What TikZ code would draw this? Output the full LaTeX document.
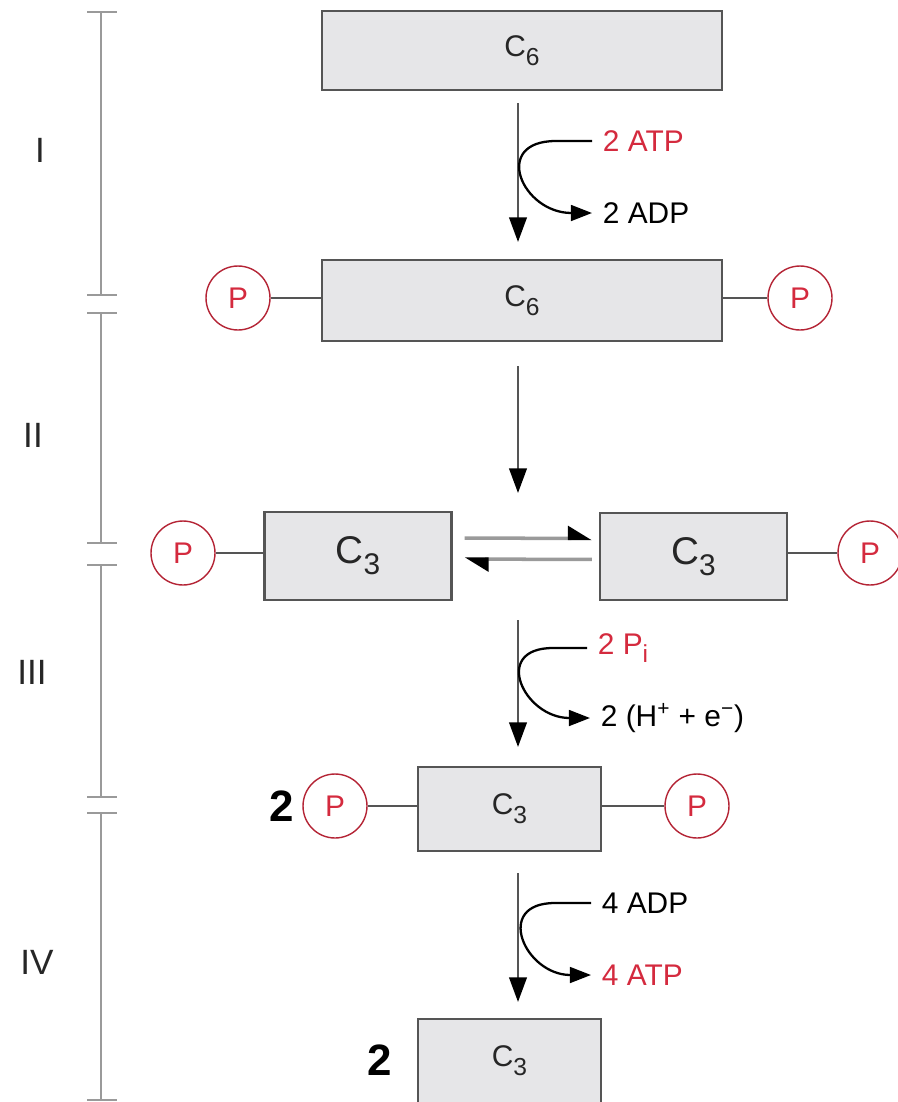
\documentclass[tikz,border=0pt]{standalone}
\usepackage{fontspec}
\setmainfont{Liberation Sans}
\usepackage{tikz}
\usetikzlibrary{arrows.meta,calc}
\definecolor{glyred}{HTML}{D42A3E}
\definecolor{glybox}{HTML}{E6E6E8}
\definecolor{glyedge}{HTML}{555555}
\definecolor{glyscale}{HTML}{9A9A9A}
\newcommand\csub[1]{\raisebox{-0.55ex}{\fontsize{14}{14}\selectfont #1}}
\tikzset{
  gl/box/.style={
    draw=glyedge, fill=glybox, line width=1.2pt, inner sep=0pt,
    font=\fontsize{17}{20}\selectfont, text=black!85
  },
  gl/phos/.style={
    circle, draw=glyred!85!black, line width=0.8pt, minimum size=1.28cm, inner sep=0pt,
    text=glyred, font=\fontsize{17}{20}\selectfont
  },
  gl/link/.style={glyedge, line width=1.5pt},
  gl/arr/.style={-{Triangle[length=14pt,width=10pt,color=black]}, draw=glyedge, line width=1.3pt},
  gl/side/.style={-{Triangle[length=12pt,width=9pt]}, black, line width=1.3pt},
  gl/eq/.style={-{Triangle[left,length=12pt,width=14pt,color=black]}, draw=glyscale, line width=2pt},
  gl/lbl/.style={anchor=west, inner sep=6pt, font=\fontsize{17}{20}\selectfont},
  gl/stage/.style={font=\fontsize{20}{24}\selectfont, text=black!85},
  gl/count/.style={font=\fontsize{25}{30}\selectfont\bfseries},
  gl/scale/.style={glyscale, line width=1.6pt}
}

\begin{document}
\begin{tikzpicture}[x=0.02cm, y=-0.02cm]
  \useasboundingbox (0,0) rectangle (898,1102);

  % --- Escala de etapas ---
  \foreach \ya/\yb in {12/295, 313/543, 565/797, 813/1100}
    \draw[gl/scale] (87,\ya) -- (117,\ya) (101,\ya) -- (101,\yb) (87,\yb) -- (117,\yb);
  \node[gl/stage] (st1) at (40,150) {I};
  \node[gl/stage] (st2) at (33,435) {II};
  \node[gl/stage] (st3) at (32,672) {III};
  \node[gl/stage] (st4) at (37,962) {IV};

  % --- Etapa I ---
  \node[gl/box, minimum width=8cm, minimum height=1.58cm] (b1) at (522,50.5) {C\csub{6}};
  \node[gl/box, minimum width=8cm, minimum height=1.62cm] (b2) at (522,300.5) {C\csub{6}};
  \node[gl/phos] (p2l) at (238,298) {P};
  \node[gl/phos] (p2r) at (800,298) {P};
  \coordinate (m1) at (518,141);
  \node[gl/lbl, text=glyred] (atp1) at (592,141) {2 ATP};
  \node[gl/lbl] (adp1) at (592,213) {2 ADP};

  % --- Etapa II ---
  \coordinate (m2) at (518,493);
  \node[gl/box, minimum width=3.74cm, minimum height=1.76cm] (b3l) at (358,556) {\fontsize{22}{26}\selectfont C\raisebox{-0.55ex}{\fontsize{17}{17}\selectfont 3}};
  \node[gl/box, minimum width=3.74cm, minimum height=1.74cm] (b3r) at (693.5,556.5) {\fontsize{22}{26}\selectfont C\raisebox{-0.55ex}{\fontsize{17}{17}\selectfont 3}};
  \node[gl/phos] (p3l) at (183,553) {P};
  \node[gl/phos] (p3r) at (870,553) {P};

  % --- Etapa III ---
  \coordinate (m3) at (518,620);
  \node[gl/lbl, text=glyred] (pi3) at (587,648) {2 P\csub{i}};
  \node[gl/lbl] (hpe3) at (590,718) {2 (H\textsuperscript{+} + e\textsuperscript{−})};
  \node[gl/box, minimum width=3.66cm, minimum height=1.68cm] (b4) at (509.5,809) {C\csub{3}};
  \node[gl/phos] (p4l) at (335,806) {P};
  \node[gl/phos] (p4r) at (697,806) {P};
  \node[gl/count] (n4) at (282,806) {2};

  % --- Etapa IV ---
  \node[gl/lbl] (adp4) at (591,903) {4 ADP};
  \node[gl/lbl, text=glyred] (atp4) at (591,975) {4 ATP};
  \node[gl/box, minimum width=3.66cm, minimum height=1.68cm] (b5) at (509.5,1061) {C\csub{3}};
  \node[gl/count] (n5) at (380,1060) {2};

  % --- Enlaces fosfato ---
  \draw[gl/link] (p2l) -- (p2l -| b2.west);
  \draw[gl/link] (b2.east |- p2r) -- (p2r);
  \draw[gl/link] (p3l) -- (p3l -| b3l.west);
  \draw[gl/link] (b3r.east |- p3r) -- (p3r);
  \draw[gl/link] (p4l) -- (p4l -| b4.west);
  \draw[gl/link] (b4.east |- p4r) -- (p4r);

  % --- Flechas ---
  \draw[gl/arr, shorten <=0.24cm, shorten >=0.34cm] (m1 |- b1.south) -- (m1 |- b2.north);
  \draw[gl/arr, shorten <=0.48cm] (m2 |- b2.south) -- (m2);
  \draw[gl/arr, shorten >=0.38cm] (m3) -- (m3 |- b4.north);
  \draw[gl/arr, shorten <=0.42cm, shorten >=0.32cm] (m3 |- b4.south) -- (m3 |- b5.north);
  \draw[gl/eq, shorten <=0.24cm, shorten >=0.14cm] ([yshift=0.36cm]b3l.east) -- ([yshift=0.36cm]b3r.west);
  \draw[gl/eq, shorten <=0.14cm, shorten >=0.24cm] ([yshift=-0.06cm]b3r.west) -- ([yshift=-0.06cm]b3l.east);

  \draw[gl/side] (atp1.west) -- ++(-36,0) .. controls +(-65,0) and +(-70,0) .. (adp1.west);
  \draw[gl/side] (pi3.west) -- ++(-34,0) .. controls +(-62,0) and +(-66,0) .. (hpe3.west);
  \draw[gl/side] (adp4.west) -- ++(-36,0) .. controls +(-62,0) and +(-66,0) .. (atp4.west);
\end{tikzpicture}
\end{document}
